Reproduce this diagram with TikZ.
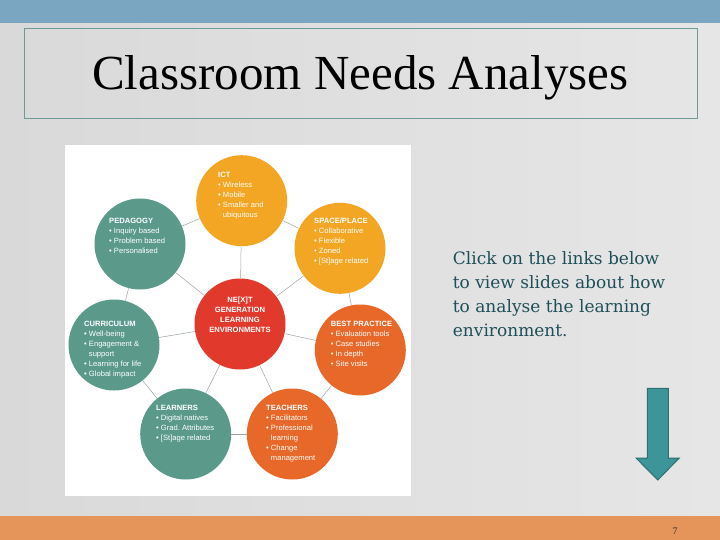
\documentclass[tikz,border=0pt]{standalone}
\usepackage{fontspec}
\setmainfont{Liberation Serif}
\newfontfamily\circfont{Liberation Sans}
\newfontfamily\bodyfont{DejaVu Serif}
\definecolor{tealc}{HTML}{5B9A8B}
\definecolor{amber}{HTML}{F3A623}
\definecolor{orng}{HTML}{E8682A}
\definecolor{redc}{HTML}{E2392D}
\definecolor{topband}{HTML}{7BA6C1}
\definecolor{botband}{HTML}{E5955A}
\definecolor{arrowfill}{HTML}{3D9499}
\definecolor{arrowline}{HTML}{2F6F72}
\definecolor{boxline}{HTML}{6E9A98}
\definecolor{linkc}{HTML}{9AA5A5}
\definecolor{bodytext}{HTML}{1F4F5A}
\definecolor{bgleft}{HTML}{D9D9D9}
\definecolor{bgright}{HTML}{E6E6E6}
\tikzset{
  blob/.style={circle, minimum size=91pt, inner sep=0pt},
  ctext/.style={font=\circfont\fontsize{7.6}{10}\selectfont, text=white, align=left, anchor=north west, inner sep=0pt},
  link/.style={draw=linkc, line width=0.5pt},
}
\newcommand{\bl}{\textbullet\ }
\newcommand{\ind}{\phantom{\textbullet\ }}
\begin{document}
\begin{tikzpicture}[x=1pt,y=-1pt]
\useasboundingbox (0,0) rectangle (720,540);
% background
\shade[left color=bgleft, right color=bgright] (0,0) rectangle (720,540);
\fill[topband] (0,0) rectangle (720,22.7);
\fill[botband] (0,516) rectangle (720,540);
% title box
\draw[boxline, line width=0.6pt] (24,28.3) rectangle (697.4,118.3);
\node[anchor=base, inner sep=0pt, font=\fontsize{49}{52}\selectfont] (title) at (360.4,89.3) {Classroom Needs Analyses};
% panel
\fill[white] (65,145) rectangle (411,496);
% circles
\node[blob, fill=redc] (c) at (240,324) {};
\node[blob, fill=amber] (ict) at (241.7,200.7) {};
\node[blob, fill=tealc] (ped) at (140,244) {};
\node[blob, fill=amber] (spc) at (340,248.3) {};
\node[blob, fill=tealc] (cur) at (114,345) {};
\node[blob, fill=orng] (bst) at (360.3,350) {};
\node[blob, fill=tealc] (lrn) at (185.7,434) {};
\node[blob, fill=orng] (tch) at (292.3,434) {};
% connectors
\foreach \a/\b in {ict/spc, spc/bst, bst/tch, tch/lrn, lrn/cur, cur/ped, ped/ict}
  \draw[link] (\a) -- (\b);
\foreach \b in {ict, spc, bst, tch, lrn, cur, ped}
  \draw[link] (c) -- (\b);
% circle texts
\node[ctext] (tict) at (218,172) {\textbf{ICT}\\\bl Wireless\\\bl Mobile\\\bl Smaller and\\\ind ubiquitous};
\node[ctext] (tped) at (109,217.5) {\textbf{PEDAGOGY}\\\bl Inquiry based\\\bl Problem based\\\bl Personalised};
\node[ctext] (tspc) at (314,217.5) {\textbf{SPACE/PLACE}\\\bl Collaborative\\\bl Flexible\\\bl Zoned\\\bl [St]age related};
\node[ctext] (tcur) at (84,321) {\textbf{CURRICULUM}\\\bl Well-being\\\bl Engagement \&\\\ind support\\\bl Learning for life\\\bl Global impact};
\node[ctext] (tbst) at (330.7,321) {\textbf{BEST PRACTICE}\\\bl Evaluation tools\\\bl Case studies\\\bl In depth\\\bl Site visits};
\node[ctext] (tlrn) at (156,405) {\textbf{LEARNERS}\\\bl Digital natives\\\bl Grad.\ Attributes\\\bl [St]age related};
\node[ctext] (ttch) at (266,405) {\textbf{TEACHERS}\\\bl Facilitators\\\bl Professional\\\ind learning\\\bl Change\\\ind management};
\node[ctext, anchor=north, align=center, font=\circfont\bfseries\fontsize{7.6}{10}\selectfont] (tc) at (240,297) {NE[X]T\\GENERATION\\LEARNING\\ENVIRONMENTS};
% right text
\node[anchor=north west, inner sep=0pt, align=left, text=bodytext, font=\bodyfont\fontsize{17}{24}\selectfont] (body) at (452.7,251.5) {Click on the links below\\to view slides about how\\to analyse the learning\\environment.};
% arrow
\draw[arrowline, fill=arrowfill, line width=1pt, line join=miter] (647.3,388.3) -- (668.3,388.3) -- (668.3,458) -- (679.3,458) -- (657.8,480) -- (636,458) -- (647.3,458) -- cycle;
% page number
\node[anchor=base, inner sep=0pt, font=\fontsize{10}{12}\selectfont, text=black!80] (pg) at (675,534) {7};
\end{tikzpicture}
\end{document}
